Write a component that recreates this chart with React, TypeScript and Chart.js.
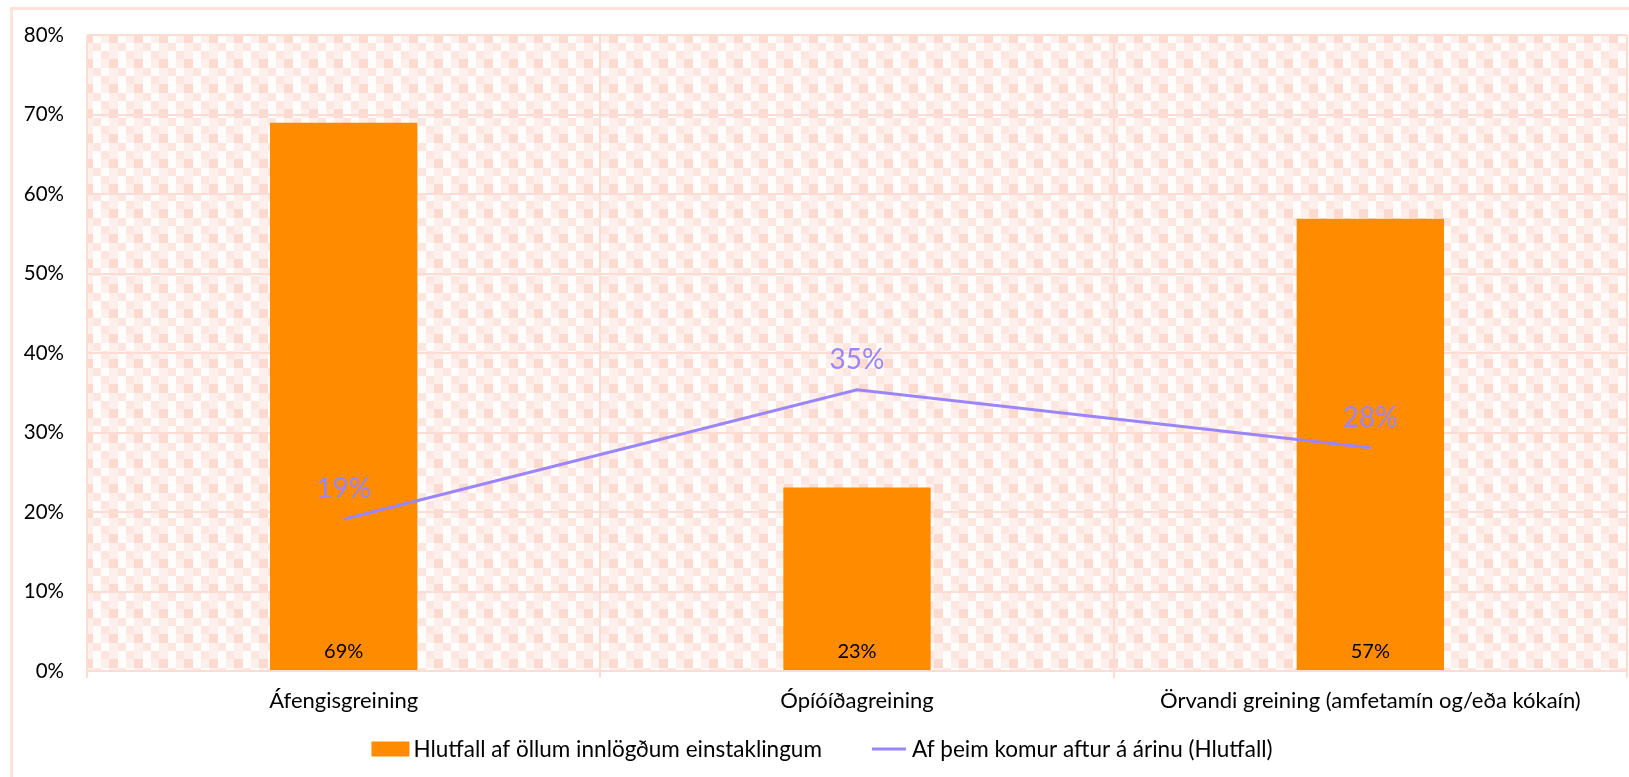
import React, { useEffect, useRef } from 'react';
import { Chart, registerables } from 'chart.js';

Chart.register(...registerables);

const categories = ['Áfengisgreining', 'Ópíóíðagreining', 'Örvandi greining (amfetamín og/eða kókaín)'];
const barSeriesName = 'Hlutfall af öllum innlögðum einstaklingum';
const lineSeriesName = 'Af þeim komur aftur á árinu (Hlutfall)';
const barValues = [69, 23.1, 56.9];
const lineValues = [19.1, 35.4, 28.1];
const yMin = 0;
const yMax = 80;
const yStep = 10;

const FONT = 'Lato, "Noto Sans", sans-serif';
const GRID = '#fcdcd3';
const ORANGE = '#ff8b00';
const PURPLE = '#9a86fa';

function makePattern(ctx: CanvasRenderingContext2D) {
  const c = document.createElement('canvas');
  c.width = 25;
  c.height = 25;
  const g = c.getContext('2d')!;
  const cols = ['#fffdfc', '#fdf0ec', '#fde6e0', '#fcdad0'];
  const map = [
    [2, 1, 0],
    [1, 3, 0],
    [0, 1, 2],
  ];
  const s = 25 / 3;
  for (let r = 0; r < 3; r++) {
    for (let q = 0; q < 3; q++) {
      g.fillStyle = cols[map[r][q]];
      g.fillRect(Math.round(q * s), Math.round(r * s), Math.round((q + 1) * s) - Math.round(q * s), Math.round((r + 1) * s) - Math.round(r * s));
    }
  }
  return ctx.createPattern(c, 'repeat');
}

const backgroundPlugin = {
  id: 'bgPattern',
  beforeDraw(chart: any) {
    const { ctx, chartArea } = chart;
    ctx.save();
    ctx.fillStyle = '#ffffff';
    ctx.fillRect(0, 0, chart.width, chart.height);
    ctx.strokeStyle = '#fde2da';
    ctx.lineWidth = 3;
    ctx.strokeRect(11.5, 8.5, chart.width + 20, chart.height + 20);
    const pat = makePattern(ctx);
    if (pat) {
      const m = new DOMMatrix();
      pat.setTransform(m.translate(1, 1));
      ctx.fillStyle = pat;
      ctx.fillRect(chartArea.left, chartArea.top, chartArea.right - chartArea.left, chartArea.bottom - chartArea.top);
    }
    ctx.restore();
  },
};

const labelsPlugin = {
  id: 'valueLabels',
  afterDatasetsDraw(chart: any) {
    const { ctx, chartArea } = chart;
    ctx.save();
    ctx.textAlign = 'center';
    ctx.textBaseline = 'middle';
    chart.data.datasets.forEach((ds: any, di: number) => {
      const meta = chart.getDatasetMeta(di);
      meta.data.forEach((el: any, i: number) => {
        const v = Math.round(ds.data[i]) + '%';
        if (ds.type === 'bar') {
          ctx.fillStyle = '#000';
          ctx.font = `20px ${FONT}`;
          ctx.fillText(v, el.x, chartArea.bottom - 19);
        } else {
          ctx.fillStyle = PURPLE;
          ctx.font = `28px ${FONT}`;
          ctx.fillText(v, el.x, el.y - 30);
        }
      });
    });
    ctx.restore();
  },
};

const legendPlugin = {
  id: 'customLegend',
  afterDraw(chart: any) {
    const { ctx } = chart;
    ctx.save();
    ctx.font = `22.5px ${FONT}`;
    ctx.textBaseline = 'middle';
    ctx.textAlign = 'left';
    const ds = chart.data.datasets;
    const barDs = ds.find((d: any) => d.type === 'bar');
    const lineDs = ds.find((d: any) => d.type === 'line');
    const items = [barDs, lineDs];
    const boxW = 38;
    const gapBoxText = 4;
    const gapItems = 48;
    const widths = items.map((d: any) => boxW + gapBoxText + ctx.measureText(d.label).width);
    const total = widths[0] + gapItems + widths[1];
    let x = 822 - total / 2;
    const y = 749;
    items.forEach((d: any, i: number) => {
      if (d.type === 'bar') {
        ctx.fillStyle = d.backgroundColor;
        ctx.fillRect(x, y - 7.5, boxW, 15);
      } else {
        ctx.strokeStyle = d.borderColor;
        ctx.lineWidth = 3;
        ctx.beginPath();
        ctx.moveTo(x + 2, y);
        ctx.lineTo(x + boxW - 2, y);
        ctx.stroke();
      }
      ctx.fillStyle = '#000';
      ctx.fillText(d.label, x + boxW + gapBoxText, y + 1);
      x += widths[i] + gapItems;
    });
    ctx.restore();
  },
};

export default function App() {
  const ref = useRef<HTMLCanvasElement>(null);
  useEffect(() => {
    if (!ref.current) return;
    const chart = new Chart(ref.current, {
      data: {
        labels: categories,
        datasets: [
          {
            type: 'line' as const,
            label: lineSeriesName,
            data: lineValues,
            borderColor: PURPLE,
            backgroundColor: PURPLE,
            borderWidth: 3,
            pointRadius: 0,
            tension: 0,
            order: 0,
          },
          {
            type: 'bar' as const,
            label: barSeriesName,
            data: barValues,
            backgroundColor: ORANGE,
            borderWidth: 0,
            barPercentage: 0.287,
            categoryPercentage: 1,
            order: 1,
          },
        ],
      },
      options: {
        animation: false,
        responsive: true,
        maintainAspectRatio: false,
        events: [],
        layout: { padding: { top: 32, right: 2, left: 0, bottom: 0 } },
        plugins: {
          legend: { display: false },
          tooltip: { enabled: false },
        },
        scales: {
          x: {
            offset: true,
            grid: { offset: true, color: GRID, lineWidth: 2, tickLength: 7, drawTicks: true },
            border: { color: GRID, width: 2 },
            ticks: {
              font: { family: FONT, size: 22 },
              color: '#000',
              padding: 10,
              maxRotation: 0,
              autoSkip: false,
            },
            afterFit: (s: any) => {
              s.height = 106;
            },
          },
          y: {
            min: yMin,
            max: yMax,
            ticks: {
              stepSize: yStep,
              callback: (v: any) => v + '%',
              font: { family: FONT, size: 20.5 },
              color: '#000',
              padding: 23,
            },
            grid: { color: GRID, lineWidth: 2, drawTicks: false },
            border: { display: false },
            afterFit: (s: any) => {
              s.width = 87;
            },
          },
        },
      },
      plugins: [backgroundPlugin, labelsPlugin, legendPlugin],
    } as any);
    return () => chart.destroy();
  }, []);
  return (
    <div style={{ position: 'fixed', left: 0, top: 0, width: 1629, height: 777 }}>
      <canvas ref={ref} />
    </div>
  );
}
